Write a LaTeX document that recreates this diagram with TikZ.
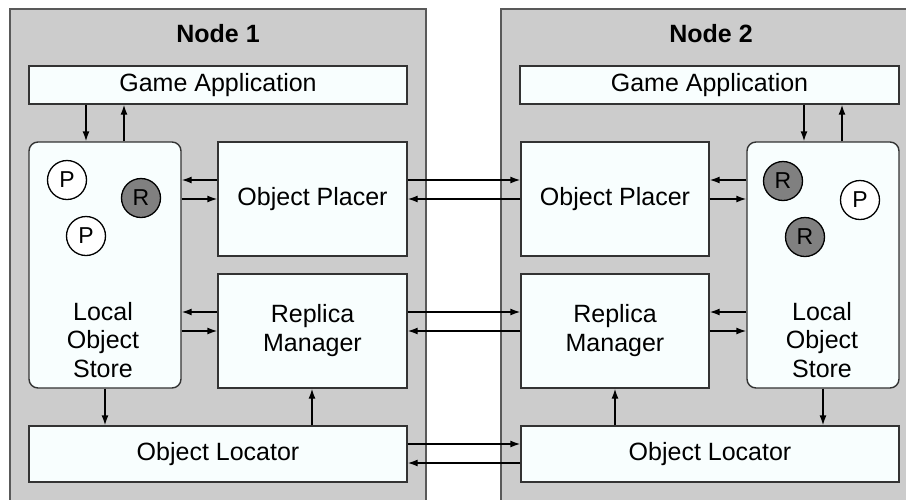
\documentclass[tikz,border=0pt]{standalone}
\usepackage{fontspec}
\setmainfont{Liberation Sans}
\usetikzlibrary{arrows.meta}
\definecolor{bggray}{HTML}{CCCCCC}
\definecolor{boxfill}{HTML}{F8FEFE}
\definecolor{rgray}{HTML}{808080}
\begin{document}
\begin{tikzpicture}[x=1pt,y=-1pt,
 region/.style={draw=black!65, line width=1.5pt, fill=bggray},
 blk/.style={draw=black!80, line width=1.4pt, fill=boxfill, font=\fontsize{25}{29}\selectfont, align=center, inner sep=0pt},
 store/.style={blk, rounded corners=9pt},
 lbl/.style={font=\fontsize{25}{28.5}\selectfont, align=center, inner sep=0pt},
 pobj/.style={circle, draw=black, line width=1.3pt, fill=white, minimum size=39pt, inner sep=0pt, font=\fontsize{23}{23}\selectfont},
 robj/.style={pobj, fill=rgray},
 arr/.style={line width=1.4pt, -{Latex[length=10pt,width=7pt]}},
 ttl/.style={font=\bfseries\fontsize{25}{28}\selectfont, inner sep=0pt}
]
\useasboundingbox (0,0) rectangle (906,499);
\clip (0,0) rectangle (906,499);
\fill[white] (0,0) rectangle (906,499);
% regions
\node[region, minimum width=416pt, minimum height=530pt, inner sep=0pt] (reg1) at (218,274) {};
\node[region, minimum width=430pt, minimum height=530pt, inner sep=0pt] (reg2) at (716,274) {};
\node[ttl] (t1) at (218,34) {Node 1};
\node[ttl] (t2) at (711,34) {Node 2};
% node 1 blocks
\node[blk, minimum width=378pt, minimum height=38pt] (ga1) at (218,85) {Game Application};
\node[store, minimum width=152pt, minimum height=246pt] (los1) at (105,265) {};
\node[blk, minimum width=189pt, minimum height=114pt] (op1) at (312.5,199) {Object Placer};
\node[blk, minimum width=189pt, minimum height=114pt] (rm1) at (312.5,331) {Replica\\Manager};
\node[blk, minimum width=378pt, minimum height=56pt] (ol1) at (218,454) {Object Locator};
\node[lbl] (los1t) at (103,340) {Local\\Object\\Store};
\node[pobj] (p11) at (67,180) {P};
\node[robj] (r11) at (141,198) {R};
\node[pobj] (p12) at (86,236) {P};
% node 2 blocks
\node[blk, minimum width=379pt, minimum height=38pt] (ga2) at (709.5,85) {Game Application};
\node[store, minimum width=152pt, minimum height=246pt] (los2) at (823,265) {};
\node[blk, minimum width=188pt, minimum height=114pt] (op2) at (615,199) {Object Placer};
\node[blk, minimum width=188pt, minimum height=114pt] (rm2) at (615,331) {Replica\\Manager};
\node[blk, minimum width=378pt, minimum height=56pt] (ol2) at (710,454) {Object Locator};
\node[lbl] (los2t) at (822,340) {Local\\Object\\Store};
\node[robj] (r21) at (783,181) {R};
\node[pobj] (p21) at (860,200) {P};
\node[robj] (r22) at (805,237) {R};
% node 1 arrows
\draw[arr] (86,0 |- ga1.south) -- (86,0 |- los1.north);
\draw[arr] (124,0 |- los1.north) -- (124,0 |- ga1.south);
\draw[arr] (op1.west |- 0,180) -- (los1.east |- 0,180);
\draw[arr] (los1.east |- 0,199) -- (op1.west |- 0,199);
\draw[arr] (rm1.west |- 0,312) -- (los1.east |- 0,312);
\draw[arr] (los1.east |- 0,331) -- (rm1.west |- 0,331);
\draw[arr] (105,0 |- los1.south) -- (105,0 |- ol1.north);
\draw[arr] (312,0 |- ol1.north) -- (312,0 |- rm1.south);
% node 2 arrows
\draw[arr] (804,0 |- ga2.south) -- (804,0 |- los2.north);
\draw[arr] (842,0 |- los2.north) -- (842,0 |- ga2.south);
\draw[arr] (los2.west |- 0,180) -- (op2.east |- 0,180);
\draw[arr] (op2.east |- 0,199) -- (los2.west |- 0,199);
\draw[arr] (los2.west |- 0,312) -- (rm2.east |- 0,312);
\draw[arr] (rm2.east |- 0,331) -- (los2.west |- 0,331);
\draw[arr] (823,0 |- los2.south) -- (823,0 |- ol2.north);
\draw[arr] (615,0 |- ol2.north) -- (615,0 |- rm2.south);
% cross arrows
\draw[arr] (op1.east |- 0,180) -- (op2.west |- 0,180);
\draw[arr] (op2.west |- 0,199) -- (op1.east |- 0,199);
\draw[arr] (rm1.east |- 0,312) -- (rm2.west |- 0,312);
\draw[arr] (rm2.west |- 0,331) -- (rm1.east |- 0,331);
\draw[arr] (ol1.east |- 0,444) -- (ol2.west |- 0,444);
\draw[arr] (ol2.west |- 0,463) -- (ol1.east |- 0,463);
\end{tikzpicture}
\end{document}
